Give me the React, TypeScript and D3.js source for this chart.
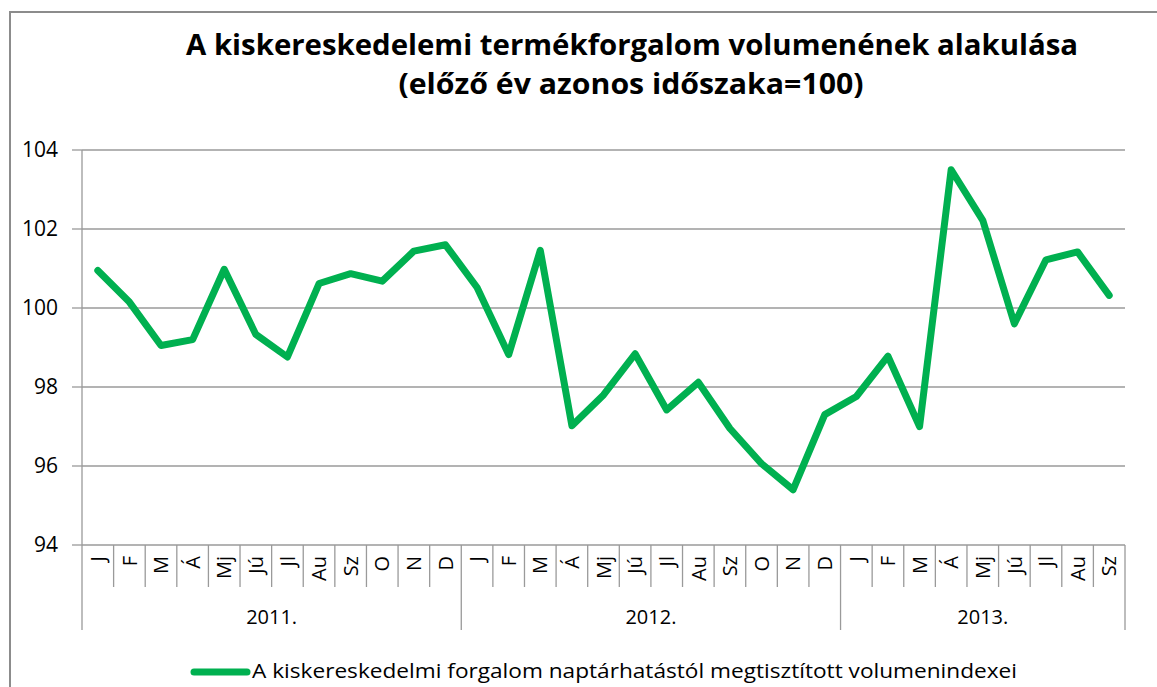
import React from "react";
import * as d3 from "d3";

const monthLabels2011 = ["J", "F", "M", "Á", "Mj", "Jú", "Jl", "Au", "Sz", "O", "N", "D"];
const monthLabels2012 = ["J", "F", "M", "Á", "Mj", "Jú", "Jl", "Au", "Sz", "O", "N", "D"];
const monthLabels2013 = ["J", "F", "M", "Á", "Mj", "Jú", "Jl", "Au", "Sz"];
const years = ["2011.", "2012.", "2013."];
const values2011 = [100.95, 100.15, 99.05, 99.2, 100.98, 99.33, 98.76, 100.62, 100.87, 100.68, 101.44, 101.6];
const values2012 = [100.52, 98.82, 101.46, 97.02, 97.8, 98.84, 97.42, 98.12, 96.95, 96.06, 95.4, 97.3];
const values2013 = [97.76, 98.78, 97.0, 103.5, 102.22, 99.6, 101.22, 101.42, 100.32];
const yTicks = [94, 96, 98, 100, 102, 104];
const seriesName = "A kiskereskedelmi forgalom naptárhatástól megtisztított volumenindexei";
const titleLine1 = "A kiskereskedelemi termékforgalom volumenének alakulása";
const titleLine2 = "(előző év azonos időszaka=100)";

const W = 1157;
const H = 687;
const left = 82;
const right = 1125;
const top = 150;
const bottom = 545;
const font = "'Open Sans', 'Liberation Sans', sans-serif";
const gray = "#9a9a9a";
const green = "#00B050";

export default function App() {
  const groups = [
    { year: years[0], months: monthLabels2011, values: values2011 },
    { year: years[1], months: monthLabels2012, values: values2012 },
    { year: years[2], months: monthLabels2013, values: values2013 },
  ];
  const cats: { key: string; label: string; value: number; gi: number }[] = [];
  groups.forEach((g, gi) =>
    g.months.forEach((m, i) => cats.push({ key: `${g.year}-${i}`, label: m, value: g.values[i], gi }))
  );
  const x = d3.scaleBand<string>().domain(cats.map((c) => c.key)).range([left, right]).padding(0);
  const y = d3.scaleLinear().domain([94, 104]).range([bottom, top]);
  const line = d3
    .line<(typeof cats)[number]>()
    .x((d) => (x(d.key) as number) + x.bandwidth() / 2)
    .y((d) => y(d.value));

  const groupRanges: { year: string; x0: number; x1: number }[] = [];
  groups.forEach((g, gi) => {
    const ks = cats.filter((c) => c.gi === gi);
    const x0 = x(ks[0].key) as number;
    const x1 = (x(ks[ks.length - 1].key) as number) + x.bandwidth();
    groupRanges.push({ year: g.year, x0, x1 });
  });

  return (
    <svg width={W} height={H} style={{ position: "absolute", left: 0, top: 0, background: "#fff" }}>
      <rect x={10} y={12} width={1300} height={800} fill="#fff" stroke="#8c8c8c" strokeWidth={2} />
      <text x={632} y={55} textAnchor="middle" fontFamily={font} fontWeight="bold" fontSize={28} fill="#000" textLength={892} lengthAdjust="spacingAndGlyphs">
        {titleLine1}
      </text>
      <text x={631} y={94} textAnchor="middle" fontFamily={font} fontWeight="bold" fontSize={28} fill="#000" textLength={465} lengthAdjust="spacingAndGlyphs">
        {titleLine2}
      </text>

      {yTicks.map((t) => (
        <g key={t}>
          <line x1={left} x2={right} y1={y(t)} y2={y(t)} stroke={gray} strokeWidth={1.3} />
          <line x1={left - 10} x2={left} y1={y(t)} y2={y(t)} stroke={gray} strokeWidth={1.3} />
          <text x={58} y={y(t)} dy="0.35em" textAnchor="end" fontFamily={font} fontSize={21} fill="#000">
            {t}
          </text>
        </g>
      ))}
      <line x1={left} x2={left} y1={top} y2={bottom} stroke={gray} strokeWidth={1.3} />

      {cats.map((c, i) => {
        const cx = (x(c.key) as number) + x.bandwidth() / 2;
        return (
          <g key={c.key}>
            {i > 0 && cats[i - 1].gi === c.gi && (
              <line x1={x(c.key) as number} x2={x(c.key) as number} y1={bottom} y2={587} stroke={gray} strokeWidth={1.3} />
            )}
            <text
              transform={`translate(${cx},556) rotate(-90)`}
              textAnchor="end"
              dy="0.36em"
              fontFamily={font}
              fontSize={20}
              fill="#000"
            >
              {c.label}
            </text>
          </g>
        );
      })}
      {groupRanges.map((g, i) => (
        <g key={g.year}>
          {i === 0 && <line x1={g.x0} x2={g.x0} y1={bottom} y2={630} stroke={gray} strokeWidth={1.3} />}
          <line x1={g.x1} x2={g.x1} y1={bottom} y2={630} stroke={gray} strokeWidth={1.3} />
          <text x={(g.x0 + g.x1) / 2} y={617} dy="0.35em" textAnchor="middle" fontFamily={font} fontSize={20} fill="#000">
            {g.year}
          </text>
        </g>
      ))}

      <path d={line(cats) || ""} fill="none" stroke={green} strokeWidth={7} strokeLinejoin="round" strokeLinecap="round" />

      <line x1={194} x2={247} y1={672} y2={672} stroke={green} strokeWidth={7} strokeLinecap="round" />
      <text x={252} y={678} fontFamily={font} fontSize={20} fill="#000" textLength={765} lengthAdjust="spacingAndGlyphs">
        {seriesName}
      </text>
    </svg>
  );
}
